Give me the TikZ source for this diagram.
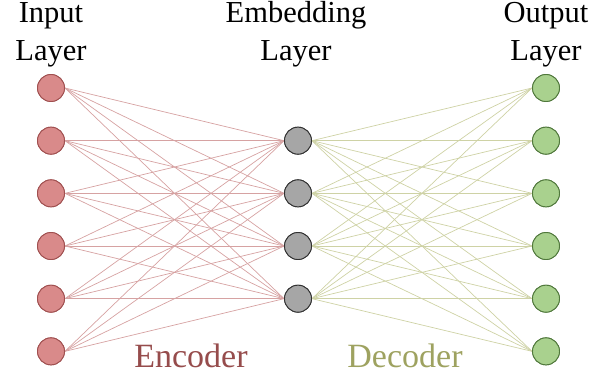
\documentclass[tikz,border=0pt]{standalone}
\usepackage{fontspec}
\setmainfont{Liberation Serif}
\definecolor{infill}{RGB}{217,138,138}
\definecolor{inborder}{RGB}{160,80,80}
\definecolor{encline}{RGB}{214,162,162}
\definecolor{enctext}{RGB}{150,76,76}
\definecolor{dectext}{RGB}{158,162,96}
\definecolor{decline}{RGB}{206,210,165}
\definecolor{outfill}{RGB}{169,209,142}
\definecolor{outborder}{RGB}{80,120,60}
\definecolor{embfill}{RGB}{166,166,166}
\definecolor{embborder}{RGB}{50,50,50}
\tikzset{
  neuron/.style={circle, minimum size=27pt, inner sep=0pt, line width=0.9pt},
  inneuron/.style={neuron, draw=inborder, fill=infill},
  embneuron/.style={neuron, draw=embborder, fill=embfill},
  outneuron/.style={neuron, draw=outborder, fill=outfill},
  header/.style={align=center, anchor=base, font=\fontsize{30.5}{38}\selectfont, inner sep=0pt},
  parttext/.style={anchor=base, font=\fontsize{34}{40}\selectfont, inner sep=0pt},
  encedge/.style={draw=encline, line width=0.7pt},
  decedge/.style={draw=decline, line width=0.7pt}
}
\begin{document}
\begin{tikzpicture}[x=1pt, y=-1pt]
\useasboundingbox (0,0) rectangle (606,374);
\foreach \i in {1,...,6} {
  \node[inneuron] (in\i) at (51, {88+52.67*(\i-1)}) {};
  \node[outneuron] (out\i) at (546, {88+52.67*(\i-1)}) {};
}
\foreach \j in {1,...,4} {
  \node[embneuron] (emb\j) at (298, {140.67+52.67*(\j-1)}) {};
}
\foreach \i in {1,...,6} {
  \foreach \j in {1,...,4} {
    \draw[encedge] (in\i.east) -- (emb\j.west);
    \draw[decedge] (emb\j.east) -- (out\i.west);
  }
}
\foreach \i in {1,...,6} {
  \node[inneuron] at (in\i) {};
  \node[outneuron] at (out\i) {};
}
\foreach \j in {1,...,4} {
  \node[embneuron] at (emb\j) {};
}
\node[header] (hin) at (51, 61) {Input\\Layer};
\node[header] (hemb) at (296, 61) {Embedding\\Layer};
\node[header] (hout) at (546, 61) {Output\\Layer};
\node[parttext, text=enctext] (enc) at (191, 367.7) {Encoder};
\node[parttext, text=dectext] (dec) at (405, 367.7) {Decoder};
\end{tikzpicture}
\end{document}
